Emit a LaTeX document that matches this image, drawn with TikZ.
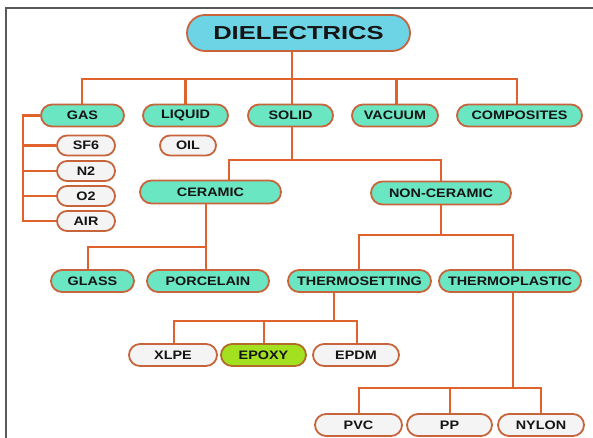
\documentclass[tikz,border=0pt]{standalone}
\usepackage{fontspec}
\setmainfont{Liberation Sans}
\usepackage{graphicx}
\definecolor{conn}{HTML}{E0622C}
\definecolor{edge}{HTML}{C8643C}
\definecolor{teal}{HTML}{6AE6C2}
\definecolor{cyanf}{HTML}{6DD4E6}
\definecolor{whitef}{HTML}{F4F4F4}
\definecolor{greenf}{HTML}{A2E020}
\definecolor{txt}{HTML}{141414}
\newcommand{\lbl}[1]{\scalebox{1.17}[1]{\bfseries #1}}
\newcommand{\biglbl}[1]{\scalebox{1.36}[1]{\bfseries #1}}
\tikzset{
  boxbase/.style={draw=edge, line width=1.8pt, rounded corners=11pt, minimum height=22pt, inner sep=0pt, text=txt, font=\fontsize{12.3}{14}\selectfont},
  lvl/.style={boxbase, fill=teal},
  leaf/.style={boxbase, fill=whitef},
  hot/.style={boxbase, fill=greenf, draw=edge!70!olive},
  wire/.style={draw=conn, line width=2.6pt},
}
\begin{document}
\begin{tikzpicture}[x=1pt,y=-1pt]
\useasboundingbox (0,0) rectangle (593,438);
\fill[white] (0,0) rectangle (593,438);
\draw[gray!70!black, line width=1.2pt] (593,8) -- (6,8) -- (6,438);

% nodes
\node[boxbase, fill=cyanf, minimum width=223pt, minimum height=36pt, rounded corners=18pt, font=\fontsize{18.8}{20}\selectfont] (diel) at (298.5,33) {\biglbl{DIELECTRICS}};

\node[lvl, minimum width=83pt] (gas) at (82.5,115.5) {\lbl{GAS}};
\node[lvl, minimum width=85pt] (liquid) at (185.5,115.5) {\lbl{LIQUID}};
\node[lvl, minimum width=85pt] (solid) at (290.5,115.5) {\lbl{SOLID}};
\node[lvl, minimum width=86pt] (vacuum) at (395,115.5) {\lbl{VACUUM}};
\node[lvl, minimum width=125pt] (comp) at (519.5,115.5) {\lbl{COMPOSITES}};

\node[leaf, minimum width=58pt, minimum height=20pt, rounded corners=10pt] (sf6) at (86,145.5) {\lbl{SF6}};
\node[leaf, minimum width=58pt, minimum height=20pt, rounded corners=10pt] (n2) at (86,171) {\lbl{N2}};
\node[leaf, minimum width=58pt, minimum height=20pt, rounded corners=10pt] (o2) at (86,196) {\lbl{O2}};
\node[leaf, minimum width=58pt, minimum height=20pt, rounded corners=10pt] (air) at (86,221) {\lbl{AIR}};
\node[leaf, minimum width=56pt, minimum height=20pt, rounded corners=10pt] (oil) at (188,145.5) {\lbl{OIL}};

\node[lvl, minimum width=141pt, minimum height=23pt, rounded corners=11.5pt] (ceramic) at (210.5,192) {\lbl{CERAMIC}};
\node[lvl, minimum width=140pt, minimum height=23pt, rounded corners=11.5pt] (nonceramic) at (441,193) {\lbl{NON-CERAMIC}};

\node[lvl, minimum width=83pt, minimum height=22pt] (glass) at (92.5,281) {\lbl{GLASS}};
\node[lvl, minimum width=122pt, minimum height=22pt] (porcelain) at (208,281) {\lbl{PORCELAIN}};
\node[lvl, minimum width=143pt, minimum height=22pt] (tset) at (359.5,281) {\lbl{THERMOSETTING}};
\node[lvl, minimum width=142pt, minimum height=22pt] (tplast) at (510,281) {\lbl{THERMOPLASTIC}};

\node[leaf, minimum width=88pt] (xlpe) at (173,355) {\lbl{XLPE}};
\node[hot, minimum width=85pt] (epoxy) at (263.5,355) {\lbl{EPOXY}};
\node[leaf, minimum width=86pt] (epdm) at (356,355) {\lbl{EPDM}};

\node[leaf, minimum width=87pt] (pvc) at (358.5,425) {\lbl{PVC}};
\node[leaf, minimum width=85pt] (pp) at (449.5,425) {\lbl{PP}};
\node[leaf, minimum width=86pt] (nylon) at (541,425) {\lbl{NYLON}};

% bus coordinates
\coordinate (b1) at (292,79);
\coordinate (b2) at (292,160);
\coordinate (b3) at (206,247);
\coordinate (b4) at (441,235);
\coordinate (b5) at (334,321);
\coordinate (b6) at (513,388);
\coordinate (g0) at (23,115.5);

% level 1
\draw[wire] (diel.south -| b1) -- (solid.north -| b1);
\draw[wire] ([xshift=-0.5pt]gas.north) |- (b1);
\draw[wire] (liquid.north) |- (b1);
\draw[wire] (b1) -| ([xshift=1.5pt]vacuum.north);
\draw[wire] (b1) -| ([xshift=-2.5pt]comp.north);

% gas bracket
\draw[wire] (gas.west) -- (g0) |- (air.west);
\draw[wire] (g0 |- sf6) -- (sf6.west);
\draw[wire] (g0 |- n2) -- (n2.west);
\draw[wire] (g0 |- o2) -- (o2.west);

% solid
\draw[wire] (solid.south -| b2) -- (b2);
\draw[wire] (b2) -| (ceramic.north -| 229,0);
\draw[wire] (b2) -| (nonceramic.north);

% ceramic
\draw[wire] (ceramic.south -| b3) -- (b3);
\draw[wire] (b3) -| (glass.north -| 88,0);
\draw[wire] (b3) -- (porcelain.north -| b3);

% non-ceramic
\draw[wire] (nonceramic.south) -- (b4);
\draw[wire] (b4) -| (tset.north -| 359,0);
\draw[wire] (b4) -| (tplast.north -| 513,0);

% thermosetting
\draw[wire] (tset.south -| b5) -- (b5);
\draw[wire] (b5) -| (xlpe.north -| 174,0);
\draw[wire] (b5) -| (epoxy.north -| 264,0);
\draw[wire] (b5) -| (epdm.north -| 357,0);

% thermoplastic
\draw[wire] (tplast.south -| b6) -- (b6);
\draw[wire] (b6) -| (pvc.north -| 359,0);
\draw[wire] (b6) -| (pp.north -| 450,0);
\draw[wire] (b6) -| (nylon.north);
\end{tikzpicture}
\end{document}
